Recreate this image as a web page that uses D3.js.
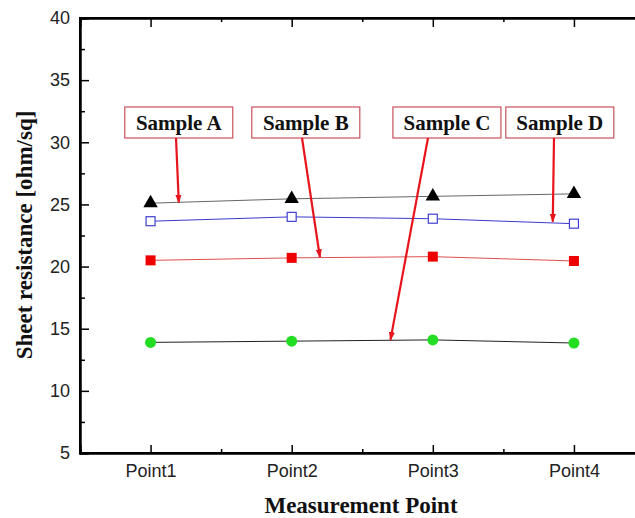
<!DOCTYPE html>
<html>
<head>
<meta charset="utf-8">
<script src="https://cdn.jsdelivr.net/npm/d3@7"></script>
<style>
  body { margin: 0; background: #fff; }
  svg { display: block; }
</style>
</head>
<body>
<script>
// chart data
var points = ['Point1', 'Point2', 'Point3', 'Point4'];
var sampleA = [25.1, 25.45, 25.65, 25.85];
var sampleB = [20.5, 20.7, 20.8, 20.45];
var sampleC = [13.9, 14.0, 14.1, 13.85];
var sampleD = [23.65, 24.0, 23.85, 23.45];
var yTicks = [5, 10, 15, 20, 25, 30, 35, 40];

// annotation labels: box centre (x index) and arrow tip (x index, value)
var labels = ['Sample A', 'Sample B', 'Sample C', 'Sample D'];
var labelPos = [1.2, 2.1, 3.1, 3.9];
var arrowTip = [[1.2, 25.15], [2.2, 20.75], [2.7, 14.1], [3.85, 23.6]];

var width = 635, height = 518;
var svg = d3.select('body').append('svg').attr('width', width).attr('height', height);

var x = d3.scaleLinear().domain([0.5, 4.5]).range([80, 644.5]);
var y = d3.scaleLinear().domain([5, 40]).range([453, 18]);

var defs = svg.append('defs');
defs.append('marker')
  .attr('id', 'arrow')
  .attr('viewBox', '0 0 10 10')
  .attr('refX', 9).attr('refY', 5)
  .attr('markerWidth', 4).attr('markerHeight', 4)
  .attr('orient', 'auto')
  .append('path').attr('d', 'M0,1.5 L10,5 L0,8.5 z').attr('fill', '#e8141c');

var series = [
  {v: sampleA, line: '#666', shape: 'tri'},
  {v: sampleD, line: '#3a3ad0', shape: 'osq'},
  {v: sampleB, line: '#e05050', shape: 'sq'},
  {v: sampleC, line: '#222', shape: 'circ'}
];

var lineGen = d3.line().x(function (d, i) { return x(i + 1); }).y(function (d) { return y(d); });

series.forEach(function (s) {
  svg.append('path').attr('d', lineGen(s.v)).attr('fill', 'none')
    .attr('stroke', s.line).attr('stroke-width', 1);
});

// markers
series.forEach(function (s) {
  var g = svg.append('g');
  s.v.forEach(function (d, i) {
    var cx = x(i + 1), cy = y(d);
    if (s.shape === 'tri') {
      g.append('path').attr('d', d3.symbol(d3.symbolTriangle, 90)())
        .attr('transform', 'translate(' + cx + ',' + cy + ')').attr('fill', '#000');
    } else if (s.shape === 'osq') {
      g.append('rect').attr('x', cx - 4.5).attr('y', cy - 4.5).attr('width', 9).attr('height', 9)
        .attr('fill', '#fff').attr('stroke', '#4040d0').attr('stroke-width', 1.2);
    } else if (s.shape === 'sq') {
      g.append('rect').attr('x', cx - 5).attr('y', cy - 5).attr('width', 10).attr('height', 10)
        .attr('fill', '#ee0000');
    } else {
      g.append('circle').attr('cx', cx).attr('cy', cy).attr('r', 5.5).attr('fill', '#22dd22');
    }
  });
});

// axes (ticks point inward)
var major = [1, 2, 3, 4], minor = [1.5, 2.5, 3.5];
var sans = 'Liberation Sans, Arial, sans-serif';
var serif = 'Liberation Serif, Times New Roman, serif';

svg.append('g').attr('transform', 'translate(0,453)')
  .call(d3.axisBottom(x).tickValues(major).tickSize(-8).tickFormat(function (d) { return points[d - 1]; }))
  .call(function (g) {
    g.selectAll('text').attr('dy', null).attr('y', 24).attr('font-family', sans)
      .attr('font-size', 18).attr('fill', '#222');
  });
svg.append('g').attr('transform', 'translate(0,453)')
  .call(d3.axisBottom(x).tickValues(minor).tickSize(-4).tickFormat(''));
svg.append('g').attr('transform', 'translate(0,18)')
  .call(d3.axisTop(x).tickValues(major).tickSize(-9).tickFormat(''));
svg.append('g').attr('transform', 'translate(0,18)')
  .call(d3.axisTop(x).tickValues(minor).tickSize(-4).tickFormat(''));

svg.append('g').attr('transform', 'translate(80,0)')
  .call(d3.axisLeft(y).tickValues(yTicks).tickSize(-9).tickPadding(10))
  .call(function (g) {
    g.selectAll('text').attr('font-family', sans).attr('font-size', 18).attr('fill', '#222');
  });
svg.append('g').attr('transform', 'translate(80,0)')
  .call(d3.axisLeft(y).tickValues(d3.range(7.5, 40, 5)).tickSize(-5).tickFormat(''));

svg.selectAll('.domain').attr('stroke', '#000').attr('stroke-width', 2);
svg.selectAll('.tick line').attr('stroke', '#000').attr('stroke-width', 1.5);

// frame (right side falls outside the window)
svg.append('rect').attr('x', 80).attr('y', 18).attr('width', 644.5 - 80).attr('height', 453 - 18)
  .attr('fill', 'none').attr('stroke', '#000').attr('stroke-width', 2);

// annotations
labels.forEach(function (t, i) {
  var cx = x(labelPos[i]);
  var g = svg.append('g');
  g.append('rect').attr('x', cx - 54).attr('y', 107).attr('width', 108).attr('height', 31)
    .attr('fill', '#fff').attr('stroke', '#c8505a').attr('stroke-width', 1.2);
  g.append('text').attr('x', cx).attr('y', 130).attr('text-anchor', 'middle')
    .attr('font-family', serif).attr('font-weight', 'bold')
    .attr('font-size', 21).attr('fill', '#111').text(t);
});
var arrowStart = [176, 302, 428, 554];
labels.forEach(function (t, i) {
  svg.append('line').attr('x1', arrowStart[i]).attr('y1', 138)
    .attr('x2', x(arrowTip[i][0])).attr('y2', y(arrowTip[i][1]))
    .attr('stroke', '#e8141c').attr('stroke-width', 2.2).attr('marker-end', 'url(#arrow)');
});

// axis titles
svg.append('text').attr('transform', 'translate(32,235) rotate(-90)').attr('text-anchor', 'middle')
  .attr('font-family', serif).attr('font-weight', 'bold')
  .attr('font-size', 23).attr('fill', '#111').text('Sheet resistance [ohm/sq]');
svg.append('text').attr('x', 361).attr('y', 513).attr('text-anchor', 'middle')
  .attr('font-family', serif).attr('font-weight', 'bold')
  .attr('font-size', 23).attr('fill', '#111').text('Measurement Point');
</script>
</body>
</html>
